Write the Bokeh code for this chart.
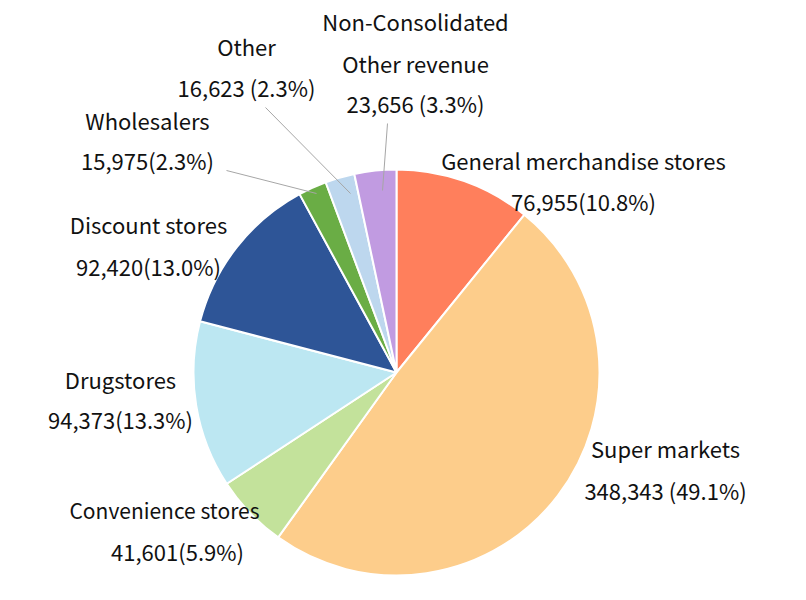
import math
from bokeh.plotting import figure
from bokeh.models import Range1d, ColumnDataSource
from bokeh.core.properties import value
from bokeh.embed import file_html
from bokeh.resources import INLINE

# ---- data ----
categories = ["General merchandise stores", "Super markets", "Convenience stores",
              "Drugstores", "Discount stores", "Wholesalers", "Other", "Other revenue"]
values = [76955, 348343, 41601, 94373, 92420, 15975, 16623, 23656]
separators = ["", " ", "", "", "", "", " ", " "]
colors = ["#FF7F5C", "#FDCD8B", "#C3E29B", "#BCE7F2", "#2E5597", "#6AAD45", "#BDD7EE", "#C19BE1"]

total = sum(values)
pcts = [v / total * 100 for v in values]
value_labels = [f"{v:,}{s}({p:.1f}%)" for v, s, p in zip(values, separators, pcts)]

# ---- layout (pixel coords, y from top) ----
W, H = 806, 600
cx, cy, r = 396, 372, 203

def Y(py):
    return H - py

ends, starts = [], []
a = math.pi / 2
for v in values:
    starts.append(a)
    a -= v / total * 2 * math.pi
    ends.append(a)

p = figure(width=W, height=H, x_range=Range1d(0, W), y_range=Range1d(0, H),
           output_backend="svg", toolbar_location=None, min_border=0)
p.axis.visible = False
p.grid.visible = False
p.outline_line_color = None
p.background_fill_color = "white"
p.border_fill_color = "white"

src = ColumnDataSource(dict(start=starts, end=ends, color=colors))
p.wedge(x=cx, y=Y(cy), radius=r, start_angle="start", end_angle="end",
        direction="clock", fill_color="color", line_color="white", line_width=2, source=src)

# leader lines
leaders = [((387, 123), (382, 190)), ((265, 107), (350, 193)), ((226, 170), (316, 193))]
for (x0, y0), (x1, y1) in leaders:
    p.line([x0, x1], [Y(y0), Y(y1)], line_color="#A6A6A6", line_width=1)

# label positions: (x_name, y_name, x_value, y_value, name_size)
label_pos = {
    "General merchandise stores": (583, 159, 583, 200, "22px"),
    "Super markets": (665, 447, 665, 489, "22px"),
    "Convenience stores": (164, 509, 177, 550, "21px"),
    "Drugstores": (120, 378, 120, 418, "22px"),
    "Discount stores": (148, 223, 148, 265, "22px"),
    "Wholesalers": (147, 119, 147, 159, "22px"),
    "Other": (246, 45, 246, 86, "22px"),
    "Other revenue": (415, 62, 415, 102, "22px"),
}
tx, ty, tt, ts = [], [], [], []
for c, vl in zip(categories, value_labels):
    xn, yn, xv, yv, sz = label_pos[c]
    tx += [xn, xv]
    ty += [Y(yn), Y(yv)]
    tt += [c, vl]
    ts += [sz, "22px"]
tx.append(415); ty.append(Y(20)); tt.append("Non-Consolidated"); ts.append("22px")

tsrc = ColumnDataSource(dict(x=tx, y=ty, text=tt, size=ts))
p.text(x="x", y="y", text="text", text_font_size="size", source=tsrc,
       text_align="center", text_baseline="middle",
       text_font=value("Noto Sans CJK JP"), text_color="#111111")

open("out.html", "w").write(file_html(p, INLINE))
